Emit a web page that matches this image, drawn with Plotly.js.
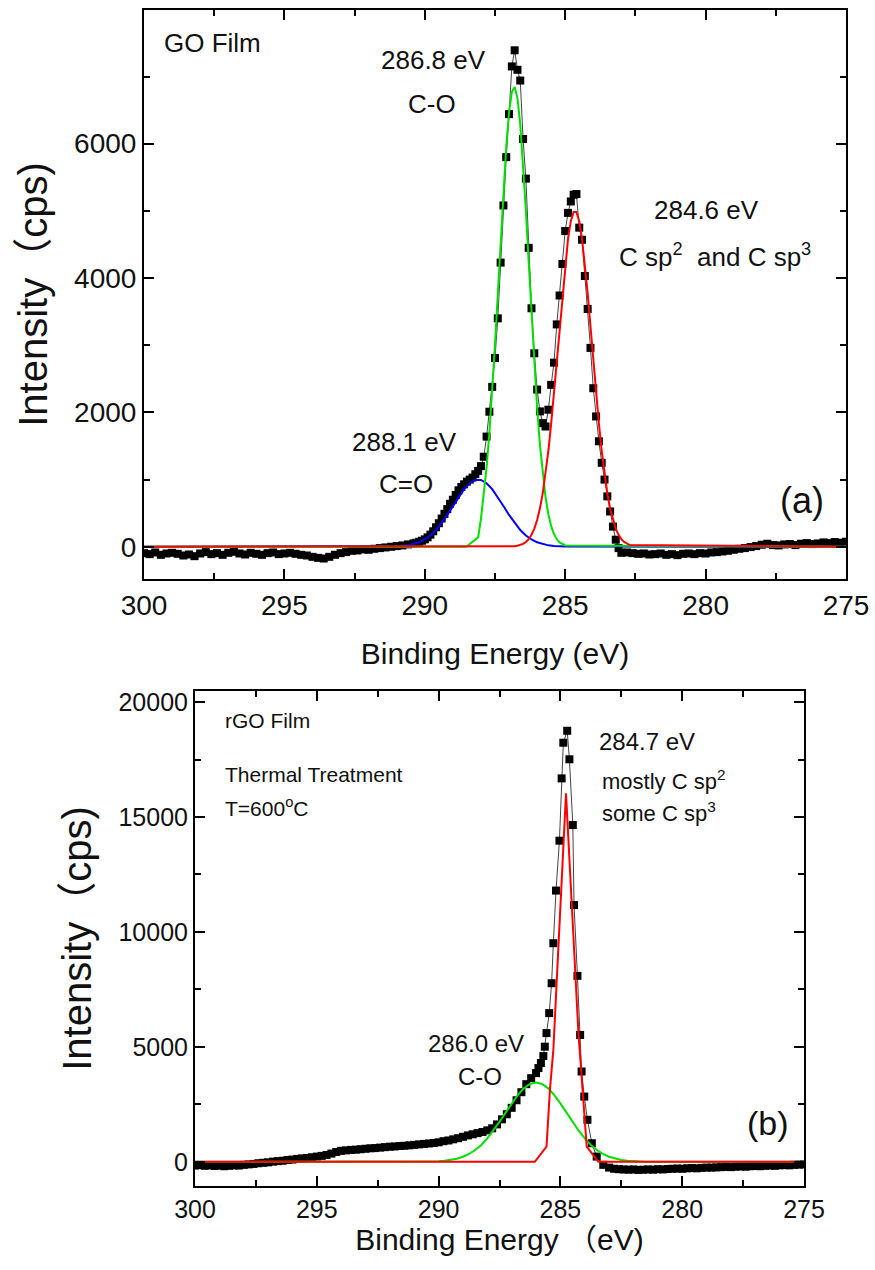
<!DOCTYPE html>
<html>
<head>
<meta charset="utf-8">
<script src="https://cdn.plot.ly/plotly-3.0.1.min.js"></script>
<style>html,body{margin:0;padding:0;background:#fff;}#chart{width:875px;height:1270px;}</style>
</head>
<body>
<div id="chart"></div>
<script>
// ---------- Panel (a): GO film, C1s spectrum ----------
const goX = [
 300.0,299.8,299.6,299.4,299.2,299.0,298.8,298.6,298.4,298.2,298.0,297.8,297.6,297.4,297.2,297.0,296.8,296.6,296.4,296.2,
 296.0,295.8,295.6,295.4,295.2,295.0,294.8,294.6,294.4,294.2,294.0,293.8,293.6,293.4,293.2,293.0,292.8,292.6,292.4,292.2,
 292.0,291.8,291.6,291.4,291.2,291.0,290.8,290.6,290.4,
 290.3,290.2,290.1,290.0,289.9,289.8,289.7,289.6,289.5,289.4,289.3,289.2,289.1,289.0,288.9,288.8,288.7,288.6,288.5,288.4,
 288.3,288.2,288.1,288.0,287.9,287.8,287.7,287.6,287.5,287.4,287.3,287.2,287.1,287.0,286.9,286.8,286.7,286.6,286.5,286.4,
 286.3,286.2,286.1,286.0,285.9,285.8,285.7,285.6,285.5,285.4,285.3,285.2,285.1,285.0,284.9,284.8,284.7,284.6,284.5,284.4,
 284.3,284.2,284.1,284.0,283.9,283.8,283.7,283.6,283.5,283.4,283.3,283.2,283.1,283.0,
 282.8,282.6,282.4,282.2,282.0,281.8,281.6,281.4,281.2,281.0,280.8,280.6,280.4,280.2,280.0,279.8,279.6,279.4,279.2,279.0,
 278.8,278.6,278.4,278.2,278.0,277.8,277.6,277.4,277.2,277.0,276.8,276.6,276.4,276.2,276.0,275.8,275.6,275.4,275.2,275.0
];
const goY = [
 -95,-110,-85,-120,-100,-90,-105,-130,-115,-140,-100,-80,-110,-95,-120,-90,-75,-100,-115,-90,
 -105,-120,-95,-85,-110,-100,-90,-105,-120,-130,-150,-165,-175,-150,-120,-95,-80,-60,-55,-40,
 -45,-30,-20,-10,0,10,20,35,50,
 60,75,90,110,140,180,230,290,350,420,490,560,640,700,770,840,890,930,970,1000,
 1030,1080,1130,1200,1340,1640,2010,2380,2810,3400,4230,5080,5800,6440,7150,7390,7100,6940,6070,5480,
 4450,3550,2880,2340,2015,1840,1790,2040,2410,2740,3310,3740,4210,4700,4970,5140,5240,5250,4750,4570,
 4030,3540,2960,2360,1940,1570,1250,1000,750,525,300,105,-20,-90,
 -85,-95,-105,-100,-115,-110,-100,-120,-110,-125,-105,-100,-110,-95,-100,-85,-80,-70,-60,-45,
 -30,-20,-5,10,30,45,25,20,35,40,25,45,55,40,50,65,55,70,60,75
];
// fitted components (a)
const goBlueX = [300,291.2,291.0,290.8,290.6,290.4,290.2,290.0,289.8,289.6,289.4,289.2,289.0,288.8,288.6,288.4,288.2,288.0,
 287.8,287.6,287.4,287.2,287.0,286.8,286.6,286.4,286.2,286.0,285.8,285.6,285.4,285.2,285.0,275];
const goBlueY = [0,3,6,11,21,38,66,108,168,249,352,474,607,739,857,946,994,994,
 946,857,739,607,474,352,249,168,108,66,38,21,11,6,3,0];
const goGreenX = [300,288.5,288.4,288.3,288.2,288.1,288.0,287.9,287.8,287.7,287.6,287.5,287.4,287.3,287.2,287.1,287.0,286.9,
 286.8,286.7,286.6,286.5,286.4,286.3,286.2,286.1,286.0,285.9,285.8,285.7,285.6,285.5,285.4,285.3,285.2,285.1,285.0,275];
const goGreenY = [0,0,40,70,100,140,420,760,1180,1700,2320,3008,3763,4546,5297,5958,6466,6772,
 6845,6677,6284,5711,5005,4233,3456,2722,2069,1518,1077,735,484,308,189,112,64,35,19,0];
const goRedX = [300,286.9,286.8,286.7,286.6,286.5,286.4,286.3,286.2,286.1,286.0,285.9,285.8,285.7,285.6,285.5,285.4,285.3,
 285.2,285.1,285.0,284.9,284.8,284.7,284.6,284.5,284.4,284.3,284.2,284.1,284.0,283.9,283.8,283.7,283.6,283.5,283.4,283.3,
 283.2,283.1,283.0,282.9,282.8,282.7,275];
const goRedY = [0,0,8,15,25,43,71,114,178,270,398,571,796,1082,1428,1833,2290,2780,
 3285,3774,4217,4584,4846,4983,4983,4846,4584,4217,3774,3285,2780,2290,1833,1428,1082,796,571,398,
 270,178,114,71,43,25,0];

// ---------- Panel (b): rGO film (600 C), C1s spectrum ----------
const rgoX = [
 300.0,299.8,299.6,299.4,299.2,299.0,298.8,298.6,298.4,298.2,298.0,297.8,297.6,297.4,297.2,297.0,296.8,296.6,296.4,296.2,
 296.0,295.8,295.6,295.4,295.2,295.0,294.8,294.6,294.4,294.2,294.0,293.8,293.6,293.4,293.2,293.0,292.8,292.6,292.4,292.2,
 292.0,291.8,291.6,291.4,291.2,291.0,290.8,290.6,290.4,290.2,290.0,
 289.8,289.6,289.4,289.2,289.0,288.8,288.6,288.4,288.2,288.0,287.8,287.6,287.4,287.2,287.0,286.8,286.6,286.4,286.2,286.0,
 285.9,285.8,285.7,285.64,285.57,285.46,285.36,285.29,285.18,285.04,284.95,284.88,284.72,284.63,284.49,284.44,284.30,284.19,
 284.13,284.02,283.89,283.71,283.51,283.24,
 283.0,282.8,282.6,282.4,282.2,282.0,281.8,281.6,281.4,281.2,281.0,280.8,280.6,280.4,280.2,280.0,279.8,279.6,279.4,279.2,
 279.0,278.8,278.6,278.4,278.2,278.0,277.8,277.6,277.4,277.2,277.0,276.8,276.6,276.4,276.2,276.0,275.8,275.6,275.4,275.2,275.0
];
const rgoY = [
 -160,-140,-170,-150,-180,-160,-190,-170,-150,-160,-130,-110,-90,-60,-40,-20,10,30,50,80,
 100,130,150,170,200,230,260,300,360,430,480,500,520,530,550,570,590,600,620,640,
 660,670,690,700,720,740,760,780,800,820,850,
 900,930,980,1030,1090,1150,1200,1250,1300,1370,1460,1630,1850,2070,2350,2680,3030,3380,3640,3860,
 4080,4300,4600,5010,5600,6470,7770,9510,11800,13970,16680,18230,18750,17510,14650,11170,8090,5520,
 3930,2840,1830,810,230,-130,
 -250,-300,-320,-330,-340,-330,-350,-340,-330,-340,-320,-330,-310,-300,-290,-300,-280,-270,-280,-260,
 -250,-250,-240,-230,-220,-230,-210,-200,-210,-190,-180,-190,-170,-160,-170,-150,-140,-150,-130,-120,-110
];
const rgoGreenX = [300,290.5,290.25,290.0,289.75,289.5,289.25,289.0,288.75,288.5,288.25,288.0,287.75,287.5,287.25,287.0,
 286.75,286.5,286.25,286.0,285.75,285.5,285.25,285.0,284.75,284.5,284.25,284.0,283.75,283.5,283.25,283.0,282.75,282.5,
 282.25,282.0,281.75,281.5,275];
const rgoGreenY = [0,7,14,26,47,82,137,222,343,513,736,1018,1355,1736,2142,2543,
 2906,3197,3385,3450,3385,3197,2906,2543,2142,1736,1355,1018,736,513,343,222,137,82,
 47,26,14,7,0];
const rgoRedX = [300,286.05,285.57,285.43,285.29,284.77,284.26,284.06,283.92,283.44,275];
const rgoRedY = [0,0,665,3130,4870,16030,5600,2700,665,0,0];

const FONT = 'Liberation Sans, Arial, "Noto Sans CJK SC", sans-serif';
const BLACK = '#000';

function dataTrace(x, y, xa, ya) {
  return {x: x, y: y, xaxis: xa, yaxis: ya, type: 'scatter', mode: 'lines+markers',
    line: {color: '#444', width: 1},
    marker: {symbol: 'square', size: 8, color: BLACK}, showlegend: false, hoverinfo: 'skip'};
}
function fitTrace(x, y, color, xa, ya) {
  return {x: x, y: y, xaxis: xa, yaxis: ya, type: 'scatter', mode: 'lines',
    line: {color: color, width: 2}, showlegend: false, hoverinfo: 'skip'};
}

const traces = [
  dataTrace(goX, goY, 'x', 'y'),
  fitTrace(goBlueX, goBlueY, '#0000ff', 'x', 'y'),
  fitTrace(goGreenX, goGreenY, '#00e000', 'x', 'y'),
  fitTrace(goRedX, goRedY, '#ff0000', 'x', 'y'),
  dataTrace(rgoX, rgoY, 'x2', 'y2'),
  fitTrace(rgoGreenX, rgoGreenY, '#00e000', 'x2', 'y2'),
  fitTrace(rgoRedX, rgoRedY, '#ff0000', 'x2', 'y2')
];

function axisCommon(extra) {
  return Object.assign({
    showline: true, linewidth: 2, linecolor: BLACK, mirror: 'ticks',
    ticks: 'inside', ticklen: 10, tickwidth: 2, tickcolor: BLACK,
    showgrid: false, zeroline: false, automargin: false,
    tickformat: 'd', separatethousands: false, exponentformat: 'none',
    tickfont: {family: FONT, size: 28, color: '#111'}
  }, extra);
}

const ann = (x, y, text, size, xa, ya, xanchor) => ({
  x: x, y: y, xref: xa, yref: ya, text: text, showarrow: false,
  xanchor: xanchor || 'center', yanchor: 'middle',
  font: {family: FONT, size: size, color: '#111'}
});

const layout = {
  width: 875, height: 1270,
  margin: {l: 0, r: 0, t: 0, b: 0},
  paper_bgcolor: '#fff', plot_bgcolor: '#fff',
  font: {family: FONT, color: '#111'},
  showlegend: false,
  xaxis: axisCommon({domain: [0.16457, 0.96686], anchor: 'y', range: [300, 275],
    tickmode: 'linear', tick0: 275, dtick: 5,
    minor: {dtick: 2.5, ticks: 'inside', ticklen: 6, tickwidth: 2, tickcolor: BLACK},
    title: {text: 'Binding Energy (eV)', font: {family: FONT, size: 30, color: '#111'}, standoff: 23}}),
  yaxis: axisCommon({domain: [0.54409, 0.99213], anchor: 'x', range: [-480, 7990],
    tickmode: 'linear', tick0: 0, dtick: 2000,
    minor: {dtick: 1000, ticks: 'inside', ticklen: 6, tickwidth: 2, tickcolor: BLACK},
    title: {text: 'Intensity（cps)', font: {family: FONT, size: 40, color: '#111'}, standoff: 14}}),
  xaxis2: axisCommon({domain: [0.22286, 0.91886], anchor: 'y2', range: [300, 275],
    tickmode: 'linear', tick0: 275, dtick: 5,
    tickfont: {family: FONT, size: 25, color: '#111'},
    minor: {dtick: 2.5, ticks: 'inside', ticklen: 6, tickwidth: 2, tickcolor: BLACK},
    title: {text: 'Binding Energy （eV)', font: {family: FONT, size: 30, color: '#111'}, standoff: 1}}),
  yaxis2: axisCommon({domain: [0.06614, 0.4559], anchor: 'x2', range: [-1050, 20480],
    tickmode: 'linear', tick0: 0, dtick: 5000,
    tickfont: {family: FONT, size: 25, color: '#111'},
    minor: {dtick: 2500, ticks: 'inside', ticklen: 6, tickwidth: 2, tickcolor: BLACK},
    title: {text: 'Intensity（cps)', font: {family: FONT, size: 40, color: '#111'}, standoff: 14}}),
  annotations: [
    ann(299.36, 7505, 'GO Film', 26, 'x', 'y', 'left'),
    ann(289.69, 7251, '286.8 eV', 26, 'x', 'y'),
    ann(289.73, 6596, 'C-O', 26, 'x', 'y'),
    ann(279.97, 5018, '284.6 eV', 26, 'x', 'y'),
    ann(279.65, 4333, 'C sp<sup>2</sup>  and C sp<sup>3</sup>', 26, 'x', 'y'),
    ann(290.71, 1563, '288.1 eV', 26, 'x', 'y'),
    ann(290.67, 938, 'C=O', 26, 'x', 'y'),
    ann(276.55, 685, '(a)', 36, 'x', 'y'),
    ann(298.85, 19218, 'rGO Film', 21, 'x2', 'y2', 'left'),
    ann(298.85, 16870, 'Thermal Treatment', 21, 'x2', 'y2', 'left'),
    ann(298.85, 15414, 'T=600<sup>o</sup>C', 21, 'x2', 'y2', 'left'),
    ann(283.50, 18283, '284.7 eV', 24, 'x2', 'y2', 'left'),
    ann(283.37, 16609, 'mostly C sp<sup>2</sup>', 22, 'x2', 'y2', 'left'),
    ann(283.37, 15196, 'some C sp<sup>3</sup>', 22, 'x2', 'y2', 'left'),
    ann(288.46, 5131, '286.0 eV', 24, 'x2', 'y2'),
    ann(288.30, 3696, 'C-O', 24, 'x2', 'y2'),
    ann(276.48, 1674, '(b)', 34, 'x2', 'y2')
  ]
};

Plotly.newPlot('chart', traces, layout, {staticPlot: true, displayModeBar: false});
</script>
</body>
</html>
